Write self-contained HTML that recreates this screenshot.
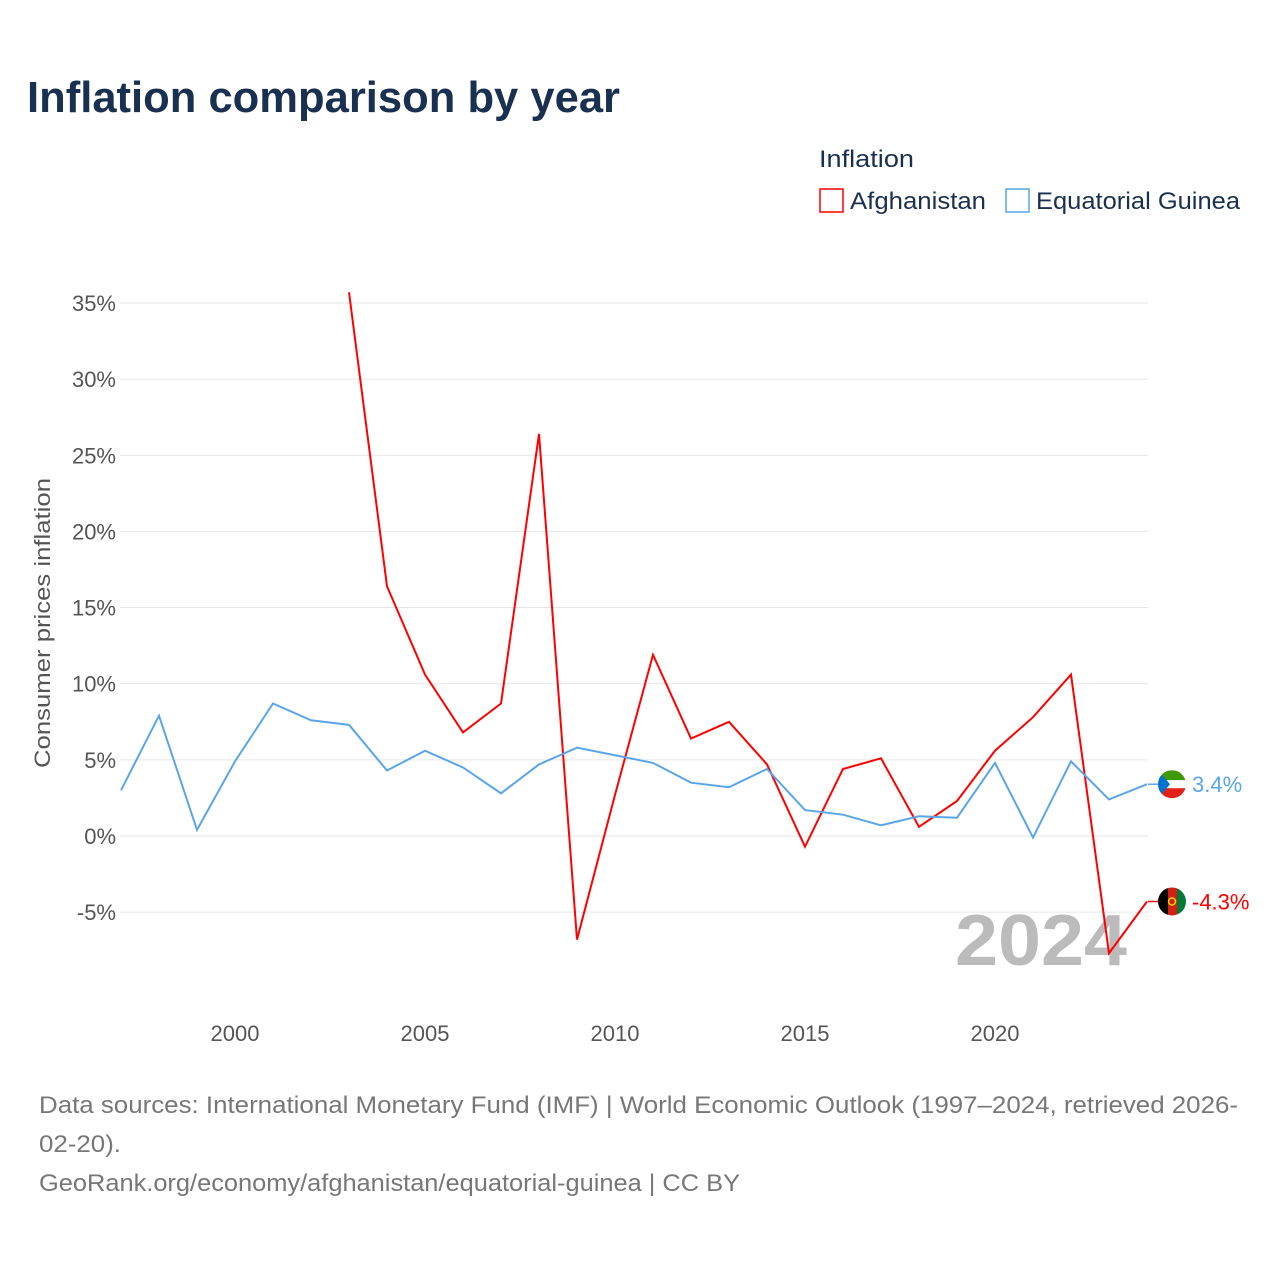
<!DOCTYPE html>
<html><head><meta charset="utf-8"><style>
body{margin:0;background:#fff;width:1280px;height:1280px;overflow:hidden;font-family:"Liberation Sans",sans-serif}
</style></head><body>
<svg id="chart" width="1280" height="1280" xmlns="http://www.w3.org/2000/svg" font-family="Liberation Sans, sans-serif">
<text x="27" y="112" font-size="44" font-weight="bold" fill="#1a3050" textLength="593" lengthAdjust="spacingAndGlyphs">Inflation comparison by year</text>
<text x="819" y="167" font-size="24" fill="#1a3050" textLength="95" lengthAdjust="spacingAndGlyphs">Inflation</text>
<g><rect x="820" y="189" width="23" height="23" fill="none" stroke="#f00" stroke-width="1.5"/><text x="850" y="209" font-size="24" fill="#1a3050" textLength="136" lengthAdjust="spacingAndGlyphs">Afghanistan</text></g>
<g><rect x="1006" y="189" width="23" height="23" fill="none" stroke="#5aa5ea" stroke-width="1.5"/><text x="1036" y="209" font-size="24" fill="#1a3050" textLength="204" lengthAdjust="spacingAndGlyphs">Equatorial Guinea</text></g>
<text transform="translate(50,623) rotate(-90)" text-anchor="middle" font-size="22" fill="#555" textLength="290" lengthAdjust="spacingAndGlyphs">Consumer prices inflation</text>
<g id="grid"></g><g id="ylabels"></g><g id="xlabels"></g>
<text x="1127" y="965" text-anchor="end" font-size="72" font-weight="bold" fill="#bbb" textLength="172" lengthAdjust="spacingAndGlyphs">2024</text>
<g id="series"></g>
<g font-size="24" fill="#777">
<text x="39" y="1113" textLength="1199" lengthAdjust="spacingAndGlyphs">Data sources: International Monetary Fund (IMF) | World Economic Outlook (1997–2024, retrieved 2026-</text>
<text x="39" y="1152" textLength="82" lengthAdjust="spacingAndGlyphs">02-20).</text>
<text x="39" y="1191" textLength="701" lengthAdjust="spacingAndGlyphs">GeoRank.org/economy/afghanistan/equatorial-guinea | CC BY</text>
</g>
</svg>
<script>
const years=[1997,1998,1999,2000,2001,2002,2003,2004,2005,2006,2007,2008,2009,2010,2011,2012,2013,2014,2015,2016,2017,2018,2019,2020,2021,2022,2023,2024];
const afgValues=[null,null,null,null,null,null,35.7,16.4,10.6,6.8,8.7,26.4,-6.8,2.7,11.9,6.4,7.5,4.7,-0.7,4.4,5.1,0.6,2.3,5.6,7.8,10.6,-7.7,-4.3];
const gnqValues=[3.0,7.9,0.4,4.9,8.7,7.6,7.3,4.3,5.6,4.5,2.8,4.7,5.8,5.3,4.8,3.5,3.2,4.4,1.7,1.4,0.7,1.3,1.2,4.8,-0.1,4.9,2.4,3.4];
const yTicks=[-5,0,5,10,15,20,25,30,35];
const xTicks=[2000,2005,2010,2015,2020];
const NS="http://www.w3.org/2000/svg";
const X=y=>121+(y-1997)*38;
const Y=v=>836-v*15.23;
function mk(t,a,p){const e=document.createElementNS(NS,t);for(const k in a)e.setAttribute(k,a[k]);document.getElementById(p).appendChild(e);return e;}
yTicks.forEach(v=>{
 const l=mk('line',{x1:120,x2:1148,y1:Y(v),y2:Y(v),stroke:'#e6e6e6','stroke-width':1},'grid');
 
 
 const t=mk('text',{x:116,y:Y(v)+8,'text-anchor':'end','font-size':22,fill:'#555'},'ylabels');
 t.textContent=v+'%';
 
 
});
xTicks.forEach(y=>{
 const t=mk('text',{x:X(y),y:1041,'text-anchor':'middle','font-size':22,fill:'#555'},'xlabels');
 t.textContent=y;
 
 
});
function line(vals,color,name){
 let d='';vals.forEach((v,i)=>{if(v===null)return;d+=(d?'L':'M')+X(years[i])+','+Y(v);});
 const p=mk('path',{d:d,fill:'none',stroke:color,'stroke-width':2},'series');
 
 
}
line(afgValues,'#f00','afghanistan-line');
line(gnqValues,'#5aa5ea','equatorial-guinea-line');
function endLabel(v,color,name,flag){
 const y=Y(v);
 mk('line',{x1:1148,x2:1160,y1:y,y2:y,stroke:color,'stroke-width':1.5},'series');
 const g=mk('g',{},'series');
 
 
 g.innerHTML=flag(1172,y);
 const t=mk('text',{x:1192,y:y+8,'font-size':22,fill:color},'series');
 t.textContent=v.toFixed(1)+'%';
 
 
}
endLabel(gnqValues[gnqValues.length-1],'#5aa5ea','equatorial-guinea',(x,y)=>`<clipPath id="c1"><circle cx="${x}" cy="${y}" r="14"/></clipPath><g clip-path="url(#c1)"><rect x="${x-14}" y="${y-14}" width="28" height="10" fill="#3e9a00"/><rect x="${x-14}" y="${y-4}" width="28" height="8" fill="#fff"/><rect x="${x-14}" y="${y+4}" width="28" height="10" fill="#e32118"/><path d="M${x-14},${y-14}L${x-2},${y}L${x-14},${y+14}Z" fill="#0073ce"/></g>`);
endLabel(afgValues[afgValues.length-1],'#f00','afghanistan',(x,y)=>`<clipPath id="c2"><circle cx="${x}" cy="${y}" r="14"/></clipPath><g clip-path="url(#c2)"><rect x="${x-14}" y="${y-14}" width="10" height="28" fill="#000"/><rect x="${x-4}" y="${y-14}" width="9" height="28" fill="#d32011"/><rect x="${x+5}" y="${y-14}" width="10" height="28" fill="#007a36"/><circle cx="${x}" cy="${y}" r="3.5" fill="none" stroke="#ffd200" stroke-width="1.5"/></g>`);
</script>
</body></html>
